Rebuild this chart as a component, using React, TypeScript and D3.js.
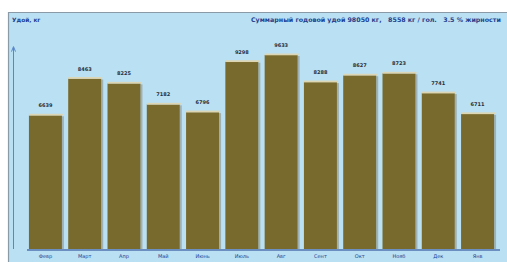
import React from "react";
import * as d3 from "d3";

const months = ["Февр", "Март", "Апр", "Май", "Июнь", "Июль", "Авг", "Сент", "Окт", "Нояб", "Дек", "Янв"];
const yields = [6639, 8463, 8225, 7182, 6796, 9298, 9633, 8288, 8627, 8723, 7741, 6711];
const yTitle = "Удой, кг";
const summary = "Суммарный годовой удой 98050 кг,   8558 кг / гол.   3.5 % жирности";

const W = 507;
const H = 262;

export default function App() {
  const x = d3.scaleBand<string>().domain(months).range([25, 498]).paddingInner(0.16).paddingOuter(0.1);
  const y = d3.scaleLinear().domain([0, 10000]).range([249, 47.6]);
  const bw = x.bandwidth();
  const font = "'DejaVu Sans', Verdana, sans-serif";
  return (
    <svg width={W} height={H} style={{ position: "absolute", left: 0, top: 0 }}>
      <rect x={0} y={0} width={W} height={H} fill="#ffffff" />
      <rect x={8} y={12} width={W - 8} height={H - 12} fill="#b9e0f3" />
      <line x1={8} y1={12.5} x2={W} y2={12.5} stroke="#8a9aa6" strokeWidth={1.2} />
      <line x1={8.5} y1={12} x2={8.5} y2={H} stroke="#8a9aa6" strokeWidth={1.2} />
      <text x={12} y={22} fontSize={5.8} fontWeight="bold" fill="#1f3f8f" fontFamily={font}>{yTitle}</text>
      <text x={251} y={22} fontSize={6.3} fontWeight="bold" fill="#1f3f8f" fontFamily={font} style={{ whiteSpace: "pre" }}>{summary}</text>
      {/* y axis */}
      <line x1={13.5} y1={y(10000)} x2={13.5} y2={y(0)} stroke="#5a86c8" strokeWidth={1} />
      <path d={`M11.5,${y(10000) + 4} L13.5,${y(10000) - 1} L15.5,${y(10000) + 4}`} fill="none" stroke="#5a86c8" strokeWidth={1} />
      {months.map((m, i) => {
        const bx = x(m)!;
        const top = y(yields[i]);
        return (
          <g key={m}>
            <rect x={bx + bw} y={top + 1} width={2} height={y(0) - top - 1} fill="#9fb1b5" />
            <rect x={bx} y={top} width={bw} height={y(0) - top} fill="#786a2c" />
            <rect x={bx} y={top - 1.5} width={bw + 1} height={1.8} fill="#ddd6b4" />
            <text x={bx + bw / 2} y={top - 8} textAnchor="middle" fontSize={5} fontWeight="bold" fill="#2a2f3a" fontFamily={font}>
              {yields[i]}
            </text>
            <text x={bx + bw / 2} y={258} textAnchor="middle" fontSize={5} fill="#1f3f8f" fontFamily={font}>
              {m}
            </text>
          </g>
        );
      })}
      <line x1={27} y1={y(0) + 1} x2={500} y2={y(0) + 1} stroke="#1f3f8f" strokeWidth={1.2} />
    </svg>
  );
}
